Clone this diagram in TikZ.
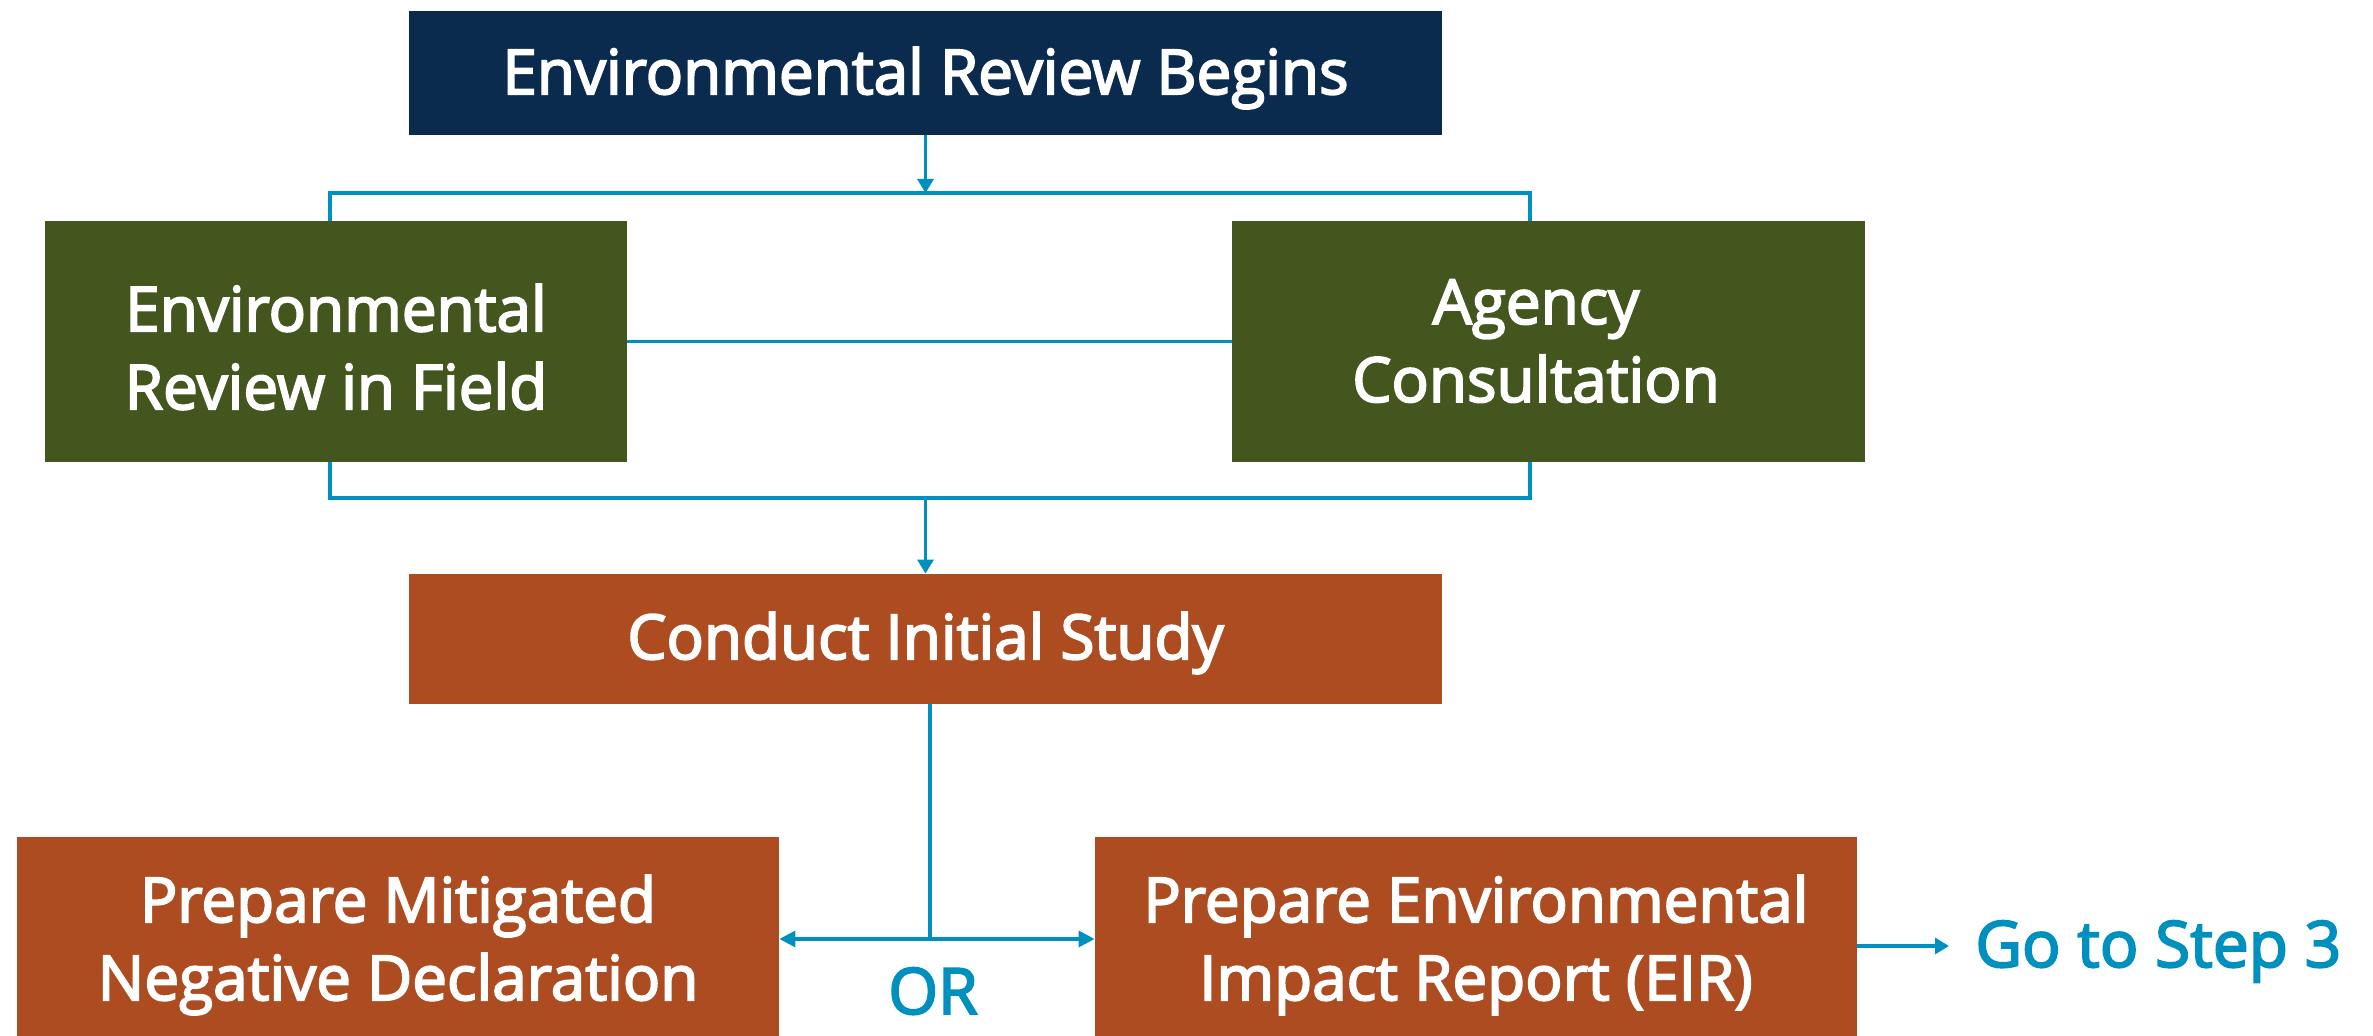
\documentclass[tikz,border=0pt]{standalone}
\usepackage{fontspec}
\setmainfont{Open Sans}
\newfontfamily\semib{Open Sans}[FakeBold=3]
\usetikzlibrary{arrows.meta}
\definecolor{navy}{HTML}{0B2B4E}
\definecolor{olive}{HTML}{43561E}
\definecolor{rust}{HTML}{AC4C20}
\definecolor{linkblue}{HTML}{0090C0}
\tikzset{
  box/.style={rectangle, inner sep=0pt},
  label text/.style={inner sep=0pt, align=center, text=white,
    font=\semib\fontsize{31}{39}\selectfont},
  navybox/.style={box, fill=navy},
  olivebox/.style={box, fill=olive},
  rustbox/.style={box, fill=rust},
  conn/.style={draw=linkblue, line width=1.6pt},
  arr/.style={conn, -{Triangle[length=7pt,width=8pt]}},
  darr/.style={conn, {Triangle[length=8pt,width=8pt]}-{Triangle[length=8pt,width=8pt]}},
  bluetext/.style={text=linkblue, inner sep=0pt, font=\semib\fontsize{32}{38}\selectfont}
}
\begin{document}
\begin{tikzpicture}[x=0.5pt,y=-0.5pt]
\useasboundingbox[fill=white] (0,0) rectangle (2373,1036);
% boxes
\node[navybox, minimum width=516.5pt, minimum height=62pt] (top) at (925.5,73) {};
\node[olivebox, minimum width=291pt, minimum height=120.5pt] (lg) at (336,341.5) {};
\node[olivebox, minimum width=316.5pt, minimum height=120.5pt] (rg) at (1548.5,341.5) {};
\node[rustbox, minimum width=516.5pt, minimum height=65pt] (cis) at (925.5,639) {};
\node[rustbox, minimum width=381pt, minimum height=99.5pt] (lb) at (398,936.5) {};
\node[rustbox, minimum width=381pt, minimum height=99.5pt] (rb) at (1476,936.5) {};
% texts
\node[label text] (topt) at (925.5,78) {Environmental Review Begins};
\node[label text] (lgt) at (336,347) {Environmental\\Review in Field};
\node[label text] (rgt) at (1536,341) {Agency\\Consultation};
\node[label text] (cist) at (925.5,643) {Conduct Initial Study};
\node[label text] (lbt) at (398,945) {Prepare Mitigated\\Negative Declaration};
\node[label text] (rbt) at (1476,945) {Prepare Environmental\\Impact Report (EIR)};
\node[bluetext, anchor=base west] (go) at (1975,967) {Go to Step 3};
\node[bluetext, anchor=base] (or) at (933,1014) {OR};
% coordinates
\coordinate (jt) at (925.5,193);
\coordinate (b1) at (330,193);
\coordinate (b2) at (1530,193);
\coordinate (jb) at (925.5,498);
\coordinate (c1) at (330,498);
\coordinate (c2) at (1530,498);
\coordinate (jo) at (930,939);
\coordinate (gotip) at (1949,946);
% connectors
\draw[arr] (top.south) -- (jt);
\draw[conn] (b1 |- lg.north) -- (b1) -- (b2) -- (b2 |- rg.north);
\draw[conn] (lg.east) -- (rg.west);
\draw[conn] (c1 |- lg.south) -- (c1) -- (c2) -- (c2 |- rg.south);
\draw[arr] (jb) -- (cis.north);
\draw[conn] (cis.south -| jo) -- (jo);
\draw[darr] (lb.east |- jo) -- (rb.west |- jo);
\draw[arr] (rb.east |- gotip) -- (gotip);
\end{tikzpicture}
\end{document}
